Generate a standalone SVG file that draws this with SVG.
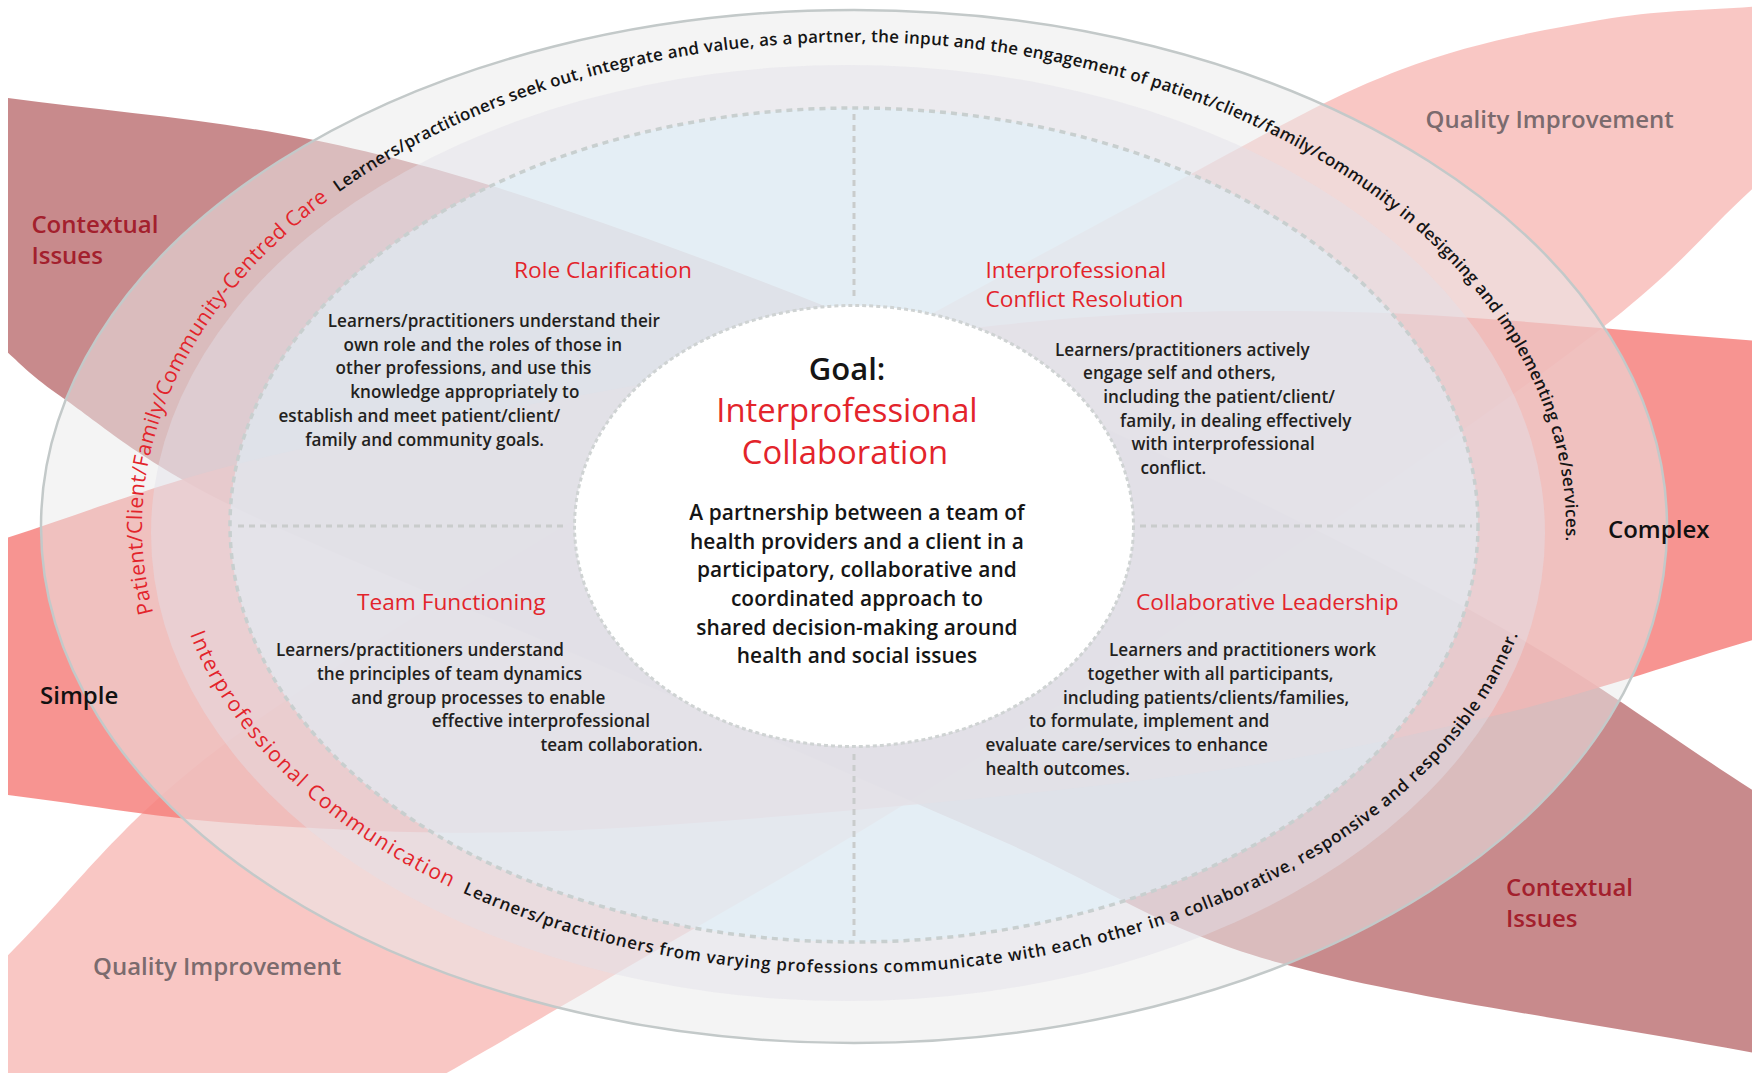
<svg xmlns="http://www.w3.org/2000/svg" width="1760" height="1073" viewBox="0 0 1760 1073">
<style>
  text { font-family: "Open Sans", "Noto Sans", "Liberation Sans", sans-serif; }
  .lbl { font-size: 24px; font-weight: 600; }
  .ci { fill: #a3202d; }
  .qi { fill: #7b6b6e; }
  .sc { fill: #111111; }
  .hd { font-size: 22.7px; fill: #e3242b; }
  .bd { font-size: 17.1px; font-weight: 600; fill: #231f20; letter-spacing: 0.05px; }
  .ctr { font-size: 20.9px; font-weight: 600; fill: #151515; text-anchor: middle; letter-spacing: 0.1px; }
  .goal { font-size: 31px; font-weight: 600; fill: #151515; text-anchor: middle; }
  .ttl { font-size: 32.8px; font-weight: 500; fill: #e3242b; text-anchor: middle; }
  .arcr { font-size: 21px; fill: #e3242b; }
  .arck { font-size: 17px; font-weight: 600; fill: #151515; }
  .divl { stroke: #c9cccc; stroke-width: 3; stroke-dasharray: 6 5; fill: none; }
</style>
<defs>
  <clipPath id="frame"><rect x="8" y="0" width="1744" height="1073"/></clipPath>
  <path id="topArc" d="M 153.3,612.9 A 712 485 0 0 1 854,42 A 712 485 0 0 1 1555.2,611.2"/>
  <path id="botArc" d="M 190,634.1 A 684 446 0 0 0 854,973 A 684 446 0 0 0 1535.4,565.9"/>
</defs>
<rect width="1760" height="1073" fill="#ffffff"/>

<g id="petals" clip-path="url(#frame)">
  <path id="petal-quality" fill="#f8bdba" fill-opacity="0.85" d="M 0,963 C 76.7,888.7 113.3,826.3 230,740 C 346.7,653.7 543.8,537.2 700,445 C 856.2,352.8 1050.3,249.5 1167,187 C 1283.7,124.5 1327.8,97.8 1400,70 C 1472.2,42.2 1540,30.7 1600,20 C 1660,9.3 1706.7,10.7 1760,6 L 1760,182 C 1693.3,241.3 1686.7,266.3 1560,360 C 1433.3,453.7 1159,640.7 1000,744 C 841,847.3 706,920.7 606,980 C 506,1039.3 468.7,1060 400,1100 L 0,1100 Z"/>
  <path id="petal-contextual" fill="#be7578" fill-opacity="0.85" d="M 0,97 C 104.7,111.3 214,119.2 314,140 C 414,160.8 485.7,182 600,222 C 714.3,262 855,315.3 1000,380 C 1145,444.7 1343.3,540.8 1470,610 C 1596.7,679.2 1663.3,733.3 1760,795 L 1760,1054 C 1600,1023.7 1406.7,998.7 1280,963 C 1153.3,927.3 1113.3,889.7 1000,840 C 886.7,790.3 728.3,720.8 600,665 C 471.7,609.2 319.5,549.5 230,505 C 140.5,460.5 101.3,424.5 63,398 C 24.7,371.5 21,363.3 0,346 Z"/>
  <path id="petal-simple-complex" fill="#f6817e" fill-opacity="0.85" d="M 0,540 C 83.3,513.7 150,485.7 250,461 C 350,436.3 475,414.7 600,392 C 725,369.3 875,338.3 1000,325 C 1125,311.7 1223.3,309.3 1350,312 C 1476.7,314.7 1623.3,331.3 1760,341 L 1760,638 C 1671,664 1593,692.7 1493,716 C 1393,739.3 1308.8,759.2 1160,778 C 1011.2,796.8 750,821.2 600,829 C 450,836.8 360,830.8 260,825 C 160,819.2 86.7,804.3 0,794 Z"/>
</g>

<g id="rings">
  <ellipse id="ring-outer" cx="854" cy="526.5" rx="813" ry="516.5" fill="#eaeaea" fill-opacity="0.52" stroke="#c3c9c9" stroke-width="2.5"/>
  <ellipse id="ring-middle" cx="848" cy="533" rx="697" ry="468" fill="#e2e0e9" fill-opacity="0.45"/>
  <ellipse id="ring-dashed" cx="854" cy="525" rx="624" ry="417" fill="#dff0f9" fill-opacity="0.6" stroke="#c8cfcf" stroke-width="3.5" stroke-dasharray="6 5"/>
</g>

<g id="dividers">
  <line class="divl" x1="854" y1="114" x2="854" y2="298"/>
  <line class="divl" x1="854" y1="754" x2="854" y2="938"/>
  <line class="divl" x1="238" y1="526" x2="567" y2="526"/>
  <line class="divl" x1="1140" y1="526" x2="1472" y2="526"/>
</g>

<g id="petal-labels">
  <text class="lbl ci" x="31.4" y="232.5">Contextual</text>
  <text class="lbl ci" x="31.4" y="263.5">Issues</text>
  <text class="lbl ci" x="1506" y="896">Contextual</text>
  <text class="lbl ci" x="1506" y="927">Issues</text>
  <text class="lbl qi" x="1425.5" y="128">Quality Improvement</text>
  <text class="lbl qi" x="93" y="975">Quality Improvement</text>
  <text class="lbl sc" x="40" y="704">Simple</text>
  <text class="lbl sc" x="1608" y="538">Complex</text>
</g>

<g id="arc-texts">
  <text class="arcr"><textPath href="#topArc" startOffset="0" textLength="478" lengthAdjust="spacing">Patient/Client/Family/Community-Centred Care</textPath></text>
  <text class="arck"><textPath href="#topArc" startOffset="490" textLength="1508" lengthAdjust="spacing">Learners/practitioners seek out, integrate and value, as a partner, the input and the engagement of patient/client/family/community in designing and implementing care/services.</textPath></text>
  <text class="arcr"><textPath href="#botArc" startOffset="0" textLength="372" lengthAdjust="spacing">Interprofessional Communication</textPath></text>
  <text class="arck"><textPath href="#botArc" startOffset="385" textLength="1190" lengthAdjust="spacing">Learners/practitioners from varying professions communicate with each other in a collaborative, responsive and responsible manner.</textPath></text>
</g>

<g id="node-role-clarification">
  <text class="hd" x="514" y="278">Role Clarification</text>
  <text class="bd" x="327.7" y="326.7">Learners/practitioners understand their</text>
  <text class="bd" x="343.5" y="350.5">own role and the roles of those in</text>
  <text class="bd" x="335.6" y="374.3">other professions, and use this</text>
  <text class="bd" x="350.2" y="398.1">knowledge appropriately to</text>
  <text class="bd" x="278.4" y="421.9">establish and meet patient/client/</text>
  <text class="bd" x="305.3" y="445.7">family and community goals.</text>
</g>

<g id="node-conflict-resolution">
  <text class="hd" x="985.5" y="278">Interprofessional</text>
  <text class="hd" x="985.5" y="306.5">Conflict Resolution</text>
  <text class="bd" x="1055" y="355.8">Learners/practitioners actively</text>
  <text class="bd" x="1083" y="379.4">engage self and others,</text>
  <text class="bd" x="1103.3" y="403">including the patient/client/</text>
  <text class="bd" x="1120" y="426.5">family, in dealing effectively</text>
  <text class="bd" x="1131.4" y="450">with interprofessional</text>
  <text class="bd" x="1140.4" y="473.7">conflict.</text>
</g>

<g id="node-team-functioning">
  <text class="hd" x="357" y="609.5">Team Functioning</text>
  <text class="bd" x="276" y="656.4">Learners/practitioners understand</text>
  <text class="bd" x="317" y="680.1">the principles of team dynamics</text>
  <text class="bd" x="351.3" y="703.5">and group processes to enable</text>
  <text class="bd" x="431.7" y="727.3">effective interprofessional</text>
  <text class="bd" x="540.4" y="751.2">team collaboration.</text>
</g>

<g id="node-collaborative-leadership">
  <text class="hd" x="1136" y="609.5">Collaborative Leadership</text>
  <text class="bd" x="1109" y="656.4">Learners and practitioners work</text>
  <text class="bd" x="1087.6" y="680.1">together with all participants,</text>
  <text class="bd" x="1063" y="703.5">including patients/clients/families,</text>
  <text class="bd" x="1029" y="727.3">to formulate, implement and</text>
  <text class="bd" x="985.5" y="751.2">evaluate care/services to enhance</text>
  <text class="bd" x="985.5" y="775">health outcomes.</text>
</g>

<g id="node-goal">
  <ellipse cx="854" cy="526" rx="279.5" ry="220.5" fill="#ffffff" stroke="#cfd3d3" stroke-width="3" stroke-dasharray="4 3"/>
  <text class="goal" x="847" y="380">Goal:</text>
  <text class="ttl" x="847" y="422">Interprofessional</text>
  <text class="ttl" x="845" y="463.5">Collaboration</text>
  <text class="ctr" x="857" y="519.5">A partnership between a team of</text>
  <text class="ctr" x="857" y="548.5">health providers and a client in a</text>
  <text class="ctr" x="857" y="577">participatory, collaborative and</text>
  <text class="ctr" x="857" y="606">coordinated approach to</text>
  <text class="ctr" x="857" y="634.5">shared decision-making around</text>
  <text class="ctr" x="857" y="663">health and social issues</text>
</g>
</svg>
